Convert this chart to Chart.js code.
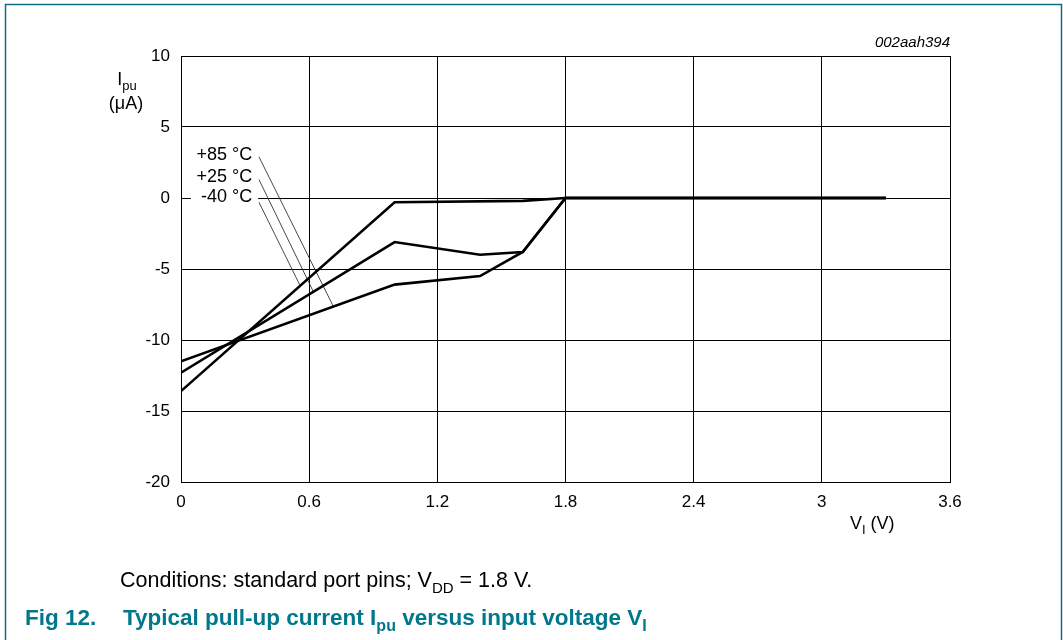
<!DOCTYPE html>
<html>
<head>
<meta charset="utf-8">
<script src="https://cdn.jsdelivr.net/npm/chart.js@4/dist/chart.umd.min.js"></script>
<style>
	html, body { margin: 0; padding: 0; background: #fff; }
	canvas { display: block; }
</style>
</head>
<body>
<canvas id="main" width="1063" height="640"></canvas>
<script>
// axis ticks
var xTicks = [0, 0.6, 1.2, 1.8, 2.4, 3, 3.6];
var xTickLabels = ['0', '0.6', '1.2', '1.8', '2.4', '3', '3.6'];
var yTicks = [-20, -15, -10, -5, 0, 5, 10];
var yTickLabels = ['-20', '-15', '-10', '-5', '0', '5', '10'];

// series, V_I (V) against I_pu (uA)
var seriesNames = ['-40 °C', '+25 °C', '+85 °C'];
var vMinus40 = [0, 1.0, 1.6, 1.8, 3.3];
var iMinus40 = [-13.6, -0.3, -0.2, 0, 0];
var vPlus25 = [0, 1.0, 1.4, 1.6, 1.8, 3.3];
var iPlus25 = [-12.3, -3.1, -4.0, -3.8, 0, 0];
var vPlus85 = [0, 1.0, 1.4, 1.6, 1.8, 3.3];
var iPlus85 = [-11.5, -6.1, -5.5, -3.8, 0, 0];

// label anchors and leader lines (value space)
var labelV = 0.333;
var labelI = [0.1, 1.5, 3.05];
var leaderStartV = [0.365, 0.365, 0.365];
var leaderStartI = [-0.3, 1.3, 2.9];
var leaderEndV = [0.557, 0.618, 0.712];
var leaderEndI = [-6.15, -6.55, -7.6];

var FONT = '"Liberation Sans", Arial, sans-serif';
var TEAL = '#00788c';

function zip(xs, ys){
	var pts = [];
	for (var i=0; i<xs.length; i++){
		pts.push({x: xs[i], y: ys[i]});
	}
	return pts;
}

// draw a run of text with subscript parts, align = left|center|right
function drawRich(ctx, parts, x, y, size, align, weight, color){
	var subSize = Math.round(size * 0.72);
	var w = 0;
	for (var i=0; i<parts.length; i++){
		ctx.font = (weight || '') + ' ' + (parts[i].sub ? subSize : size) + 'px ' + FONT;
		parts[i].w = ctx.measureText(parts[i].t).width;
		w += parts[i].w;
	}
	var cx = x;
	if (align === 'center') cx = x - w / 2;
	if (align === 'right') cx = x - w;
	ctx.fillStyle = color || '#000';
	ctx.textAlign = 'left';
	ctx.textBaseline = 'alphabetic';
	for (var i=0; i<parts.length; i++){
		ctx.font = (weight || '') + ' ' + (parts[i].sub ? subSize : size) + 'px ' + FONT;
		ctx.fillText(parts[i].t, cx, parts[i].sub ? y + size * 0.28 : y);
		cx += parts[i].w;
	}
}

var datasets = [];
var curves = [zip(vMinus40, iMinus40), zip(vPlus25, iPlus25), zip(vPlus85, iPlus85)];
for (var i=0; i<curves.length; i++){
	datasets.push({
		label: seriesNames[i],
		data: curves[i],
		showLine: true,
		borderColor: '#000',
		borderWidth: 2.6,
		pointRadius: 0,
		tension: 0
	});
}
for (var i=0; i<leaderStartV.length; i++){
	datasets.push({
		label: 'leader ' + seriesNames[i],
		data: [{x: leaderStartV[i], y: leaderStartI[i]}, {x: leaderEndV[i], y: leaderEndI[i]}],
		showLine: true,
		borderColor: '#333',
		borderWidth: 0.9,
		pointRadius: 0,
		tension: 0
	});
}

var decorations = {
	id: 'decorations',
	beforeDraw: function(chart){
		var ctx = chart.ctx;
		ctx.save();
		ctx.fillStyle = '#fff';
		ctx.fillRect(0, 0, chart.width, chart.height);
		// frame round the figure
		ctx.strokeStyle = '#0a6f85';
		ctx.lineWidth = 1.5;
		ctx.beginPath();
		ctx.moveTo(5.5, 645);
		ctx.lineTo(5.5, 4.5);
		ctx.lineTo(1061.5, 4.5);
		ctx.lineTo(1061.5, 645);
		ctx.stroke();
		ctx.restore();
	},
	beforeDatasetsDraw: function(chart){
		var ctx = chart.ctx,
			xs = chart.scales.x,
			ys = chart.scales.y;
		ctx.save();
		ctx.font = '18px ' + FONT;
		ctx.textBaseline = 'middle';
		ctx.textAlign = 'right';
		for (var i=0; i<labelI.length; i++){
			var x = xs.getPixelForValue(labelV),
				y = ys.getPixelForValue(labelI[i]);
			var w = ctx.measureText(seriesNames[i]).width;
			ctx.fillStyle = '#fff';
			ctx.fillRect(x - w - 10, y - 9, w + 16, 18);
			ctx.fillStyle = '#000';
			ctx.fillText(seriesNames[i], x, y);
		}
		ctx.restore();
	},
	afterDraw: function(chart){
		var ctx = chart.ctx,
			area = chart.chartArea;
		ctx.save();
		// figure id
		ctx.font = 'italic 15px ' + FONT;
		ctx.textAlign = 'right';
		ctx.textBaseline = 'alphabetic';
		ctx.fillStyle = '#000';
		ctx.fillText('002aah394', area.right, area.top - 9);
		// axis titles
		drawRich(ctx, [{t: 'I'}, {t: 'pu', sub: true}], 127, 85, 18, 'center');
		drawRich(ctx, [{t: '(μA)'}], 126, 109, 18, 'center');
		drawRich(ctx, [{t: 'V'}, {t: 'I', sub: true}, {t: ' (V)'}], 850, 529, 18, 'left');
		// caption and figure title
		drawRich(ctx, [{t: 'Conditions: standard port pins; V'}, {t: 'DD', sub: true}, {t: ' = 1.8 V.'}], 120, 587, 21.5, 'left');
		drawRich(ctx, [{t: 'Fig 12.'}], 25, 625, 22.5, 'left', 'bold', TEAL);
		drawRich(ctx, [{t: 'Typical pull-up current I'}, {t: 'pu', sub: true}, {t: ' versus input voltage V'}, {t: 'I', sub: true}], 123, 625, 22.5, 'left', 'bold', TEAL);
		ctx.restore();
	}
};

var ctx = document.getElementById('main').getContext('2d');
var chart = new Chart(ctx, {
	type: 'scatter',
	data: {datasets: datasets},
	options: {
		responsive: false,
		animation: false,
		devicePixelRatio: 1,
		layout: {padding: {top: 56, right: 113, left: 0, bottom: 0}},
		plugins: {legend: {display: false}, tooltip: {enabled: false}},
		scales: {
			x: {
				type: 'linear',
				min: 0,
				max: 3.6,
				afterBuildTicks: function(scale){
					scale.ticks = xTicks.map(function(v){ return {value: v}; });
				},
				afterFit: function(scale){ scale.height = 158; },
				ticks: {
					padding: 10,
					color: '#000',
					font: {family: FONT, size: 17},
					callback: function(v, i){ return xTickLabels[i]; }
				},
				grid: {color: '#000', lineWidth: 1, drawTicks: false},
				border: {color: '#000', width: 1}
			},
			y: {
				type: 'linear',
				min: -20,
				max: 10,
				afterBuildTicks: function(scale){
					scale.ticks = yTicks.map(function(v){ return {value: v}; });
				},
				afterFit: function(scale){ scale.width = 181; },
				ticks: {
					padding: 11,
					color: '#000',
					font: {family: FONT, size: 17},
					callback: function(v, i){ return yTickLabels[i]; }
				},
				grid: {color: '#000', lineWidth: 1, drawTicks: false},
				border: {color: '#000', width: 1}
			}
		}
	},
	plugins: [decorations]
});
</script>
</body>
</html>
